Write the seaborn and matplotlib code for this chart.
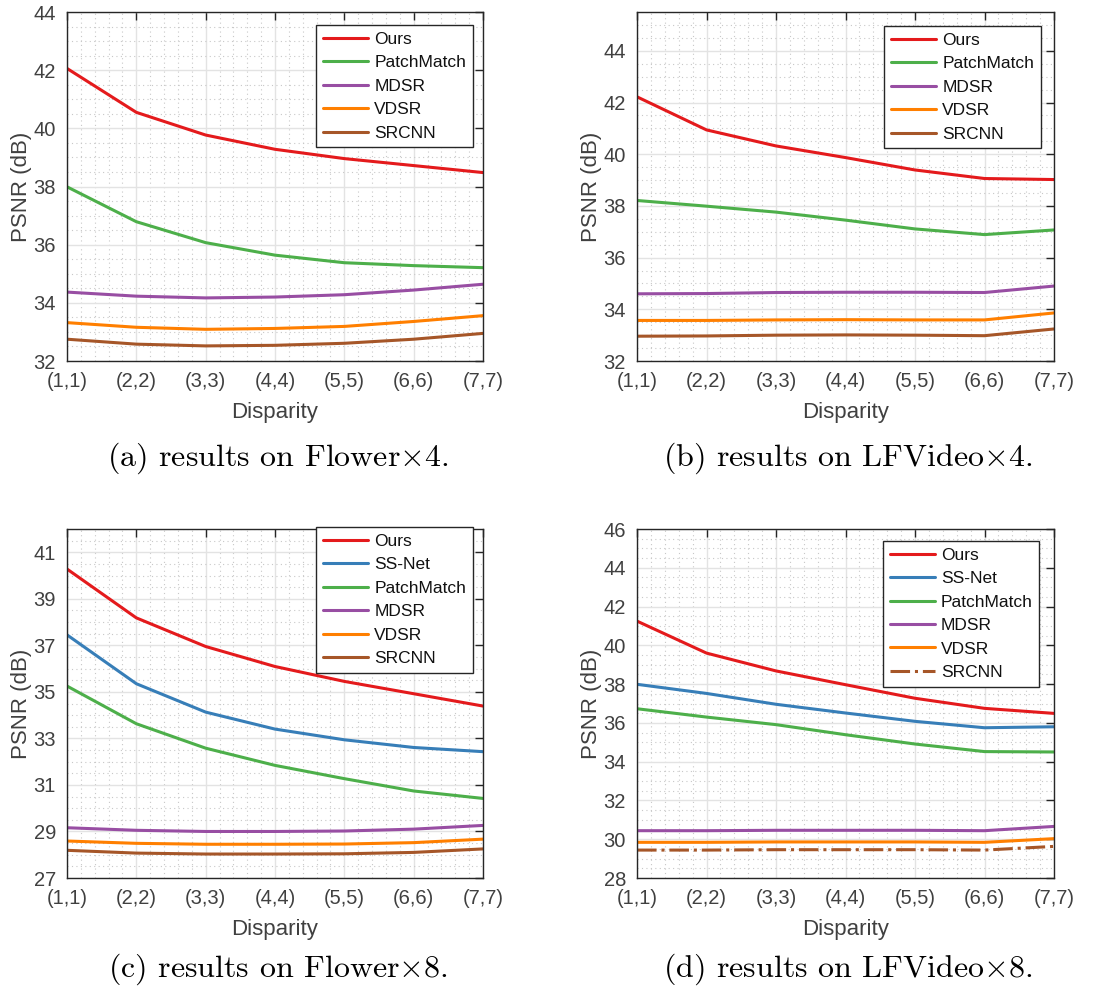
import matplotlib
matplotlib.use("Agg")
import matplotlib.pyplot as plt
import seaborn as sns
import pandas as pd
from matplotlib.ticker import MultipleLocator

sns.set_theme(style="white")
plt.rcParams['font.family'] = ['Liberation Sans', 'DejaVu Sans']
plt.rcParams['mathtext.fontset'] = 'cm'

disparity = ["(1,1)", "(2,2)", "(3,3)", "(4,4)", "(5,5)", "(6,6)", "(7,7)"]

# panel (a) Flower x4
flower4_ours = [42.06, 40.55, 39.77, 39.28, 38.96, 38.72, 38.48]
flower4_patchmatch = [37.99, 36.79, 36.07, 35.64, 35.38, 35.28, 35.21]
flower4_mdsr = [34.37, 34.23, 34.17, 34.20, 34.28, 34.44, 34.64]
flower4_vdsr = [33.32, 33.16, 33.09, 33.12, 33.19, 33.36, 33.56]
flower4_srcnn = [32.75, 32.58, 32.52, 32.54, 32.61, 32.75, 32.95]

# panel (b) LFVideo x4
lfvideo4_ours = [42.22, 40.94, 40.32, 39.87, 39.39, 39.06, 39.02]
lfvideo4_patchmatch = [38.21, 37.99, 37.76, 37.45, 37.11, 36.89, 37.07]
lfvideo4_mdsr = [34.60, 34.61, 34.65, 34.66, 34.66, 34.65, 34.90]
lfvideo4_vdsr = [33.57, 33.57, 33.59, 33.60, 33.59, 33.59, 33.86]
lfvideo4_srcnn = [32.96, 32.97, 33.00, 33.01, 33.00, 32.98, 33.24]

# panel (c) Flower x8
flower8_ours = [40.28, 38.18, 36.95, 36.09, 35.45, 34.92, 34.39]
flower8_ssnet = [37.45, 35.35, 34.13, 33.40, 32.94, 32.61, 32.43]
flower8_patchmatch = [35.25, 33.63, 32.58, 31.84, 31.27, 30.74, 30.42]
flower8_mdsr = [29.16, 29.05, 29.00, 29.00, 29.02, 29.10, 29.26]
flower8_vdsr = [28.59, 28.49, 28.45, 28.45, 28.46, 28.52, 28.67]
flower8_srcnn = [28.19, 28.07, 28.03, 28.03, 28.04, 28.10, 28.25]

# panel (d) LFVideo x8
lfvideo8_ours = [41.25, 39.60, 38.68, 37.97, 37.27, 36.75, 36.49]
lfvideo8_ssnet = [37.99, 37.52, 36.96, 36.51, 36.08, 35.75, 35.80]
lfvideo8_patchmatch = [36.73, 36.30, 35.91, 35.39, 34.91, 34.52, 34.50]
lfvideo8_mdsr = [30.44, 30.44, 30.46, 30.46, 30.46, 30.44, 30.66]
lfvideo8_vdsr = [29.84, 29.84, 29.86, 29.86, 29.86, 29.84, 30.03]
lfvideo8_srcnn = [29.44, 29.44, 29.46, 29.46, 29.46, 29.44, 29.63]

yticks_a = list(range(32, 45, 2))
yticks_b = list(range(32, 45, 2))
yticks_c = list(range(27, 42, 2))
yticks_d = list(range(28, 47, 2))

colors = {
    "Ours": "#e41a1c",
    "SS-Net": "#377eb8",
    "PatchMatch": "#4daf4a",
    "MDSR": "#984ea3",
    "VDSR": "#ff7f00",
    "SRCNN": "#a65628",
}

panels = [
    {"series": [("Ours", flower4_ours), ("PatchMatch", flower4_patchmatch),
                ("MDSR", flower4_mdsr), ("VDSR", flower4_vdsr), ("SRCNN", flower4_srcnn)],
     "ylim": (32, 44), "yticks": yticks_a, "rect": [0.0601, 0.6368, 0.3731, 0.3511],
     "caption": r"(a) results on Flower$\times$4.", "cap_xy": (0.249, 0.539),
     "legend_anchor": (0.975, 0.963), "dashdot": False},
    {"series": [("Ours", lfvideo4_ours), ("PatchMatch", lfvideo4_patchmatch),
                ("MDSR", lfvideo4_mdsr), ("VDSR", lfvideo4_vdsr), ("SRCNN", lfvideo4_srcnn)],
     "ylim": (32, 45.5), "yticks": yticks_b, "rect": [0.5713, 0.6368, 0.3740, 0.3511],
     "caption": r"(b) results on LFVideo$\times$4.", "cap_xy": (0.760, 0.539),
     "legend_anchor": (0.968, 0.960), "dashdot": False},
    {"series": [("Ours", flower8_ours), ("SS-Net", flower8_ssnet), ("PatchMatch", flower8_patchmatch),
                ("MDSR", flower8_mdsr), ("VDSR", flower8_vdsr), ("SRCNN", flower8_srcnn)],
     "ylim": (27, 42), "yticks": yticks_c, "rect": [0.0601, 0.1167, 0.3731, 0.3511],
     "caption": r"(c) results on Flower$\times$8.", "cap_xy": (0.249, 0.025),
     "legend_anchor": (0.975, 1.005), "dashdot": False},
    {"series": [("Ours", lfvideo8_ours), ("SS-Net", lfvideo8_ssnet), ("PatchMatch", lfvideo8_patchmatch),
                ("MDSR", lfvideo8_mdsr), ("VDSR", lfvideo8_vdsr), ("SRCNN", lfvideo8_srcnn)],
     "ylim": (28, 46), "yticks": yticks_d, "rect": [0.5713, 0.1167, 0.3740, 0.3511],
     "caption": r"(d) results on LFVideo$\times$8.", "cap_xy": (0.760, 0.025),
     "legend_anchor": (0.965, 0.966), "dashdot": True},
]

text_color = "#404040"
fig = plt.figure(figsize=(11.15, 9.94), dpi=100)

for p in panels:
    ax = fig.add_axes(p["rect"])
    x = list(range(1, len(disparity) + 1))
    for name, vals in p["series"]:
        df = pd.DataFrame({"x": x, "psnr": vals})
        ls = "-." if (p["dashdot"] and name == "SRCNN") else "-"
        sns.lineplot(data=df, x="x", y="psnr", ax=ax, color=colors[name],
                     linewidth=2.2, linestyle=ls, label=name)

    ax.set_xlim(1, 7)
    ax.set_ylim(*p["ylim"])
    ax.set_xticks(x)
    ax.set_xticklabels(disparity)
    ax.set_yticks(p["yticks"])
    ax.yaxis.set_minor_locator(MultipleLocator(0.5))
    ax.xaxis.set_minor_locator(MultipleLocator(0.2))
    ax.grid(True, which="major", color="#e3e3e3", linewidth=1.0)
    ax.grid(True, which="minor", color="#c8c8c8", linestyle=(0, (1, 3)), linewidth=0.8)
    ax.set_axisbelow(True)
    ax.tick_params(which="major", direction="in", length=6, width=1, colors="#262626",
                   top=True, right=True, labelcolor=text_color, labelsize=14.5)
    ax.tick_params(which="minor", length=0)
    ax.tick_params(axis="y", pad=8)
    ax.tick_params(axis="x", pad=8)
    for s in ax.spines.values():
        s.set_color("#262626")
        s.set_linewidth(1.0)
    ax.set_xlabel("Disparity", fontsize=16, color=text_color, labelpad=8)
    ax.set_ylabel("PSNR (dB)", fontsize=16, color=text_color, labelpad=1)

    leg = ax.legend(loc="upper right", bbox_to_anchor=p["legend_anchor"], fontsize=12.5,
                    frameon=True, fancybox=False, edgecolor="#262626", framealpha=1,
                    handlelength=2.6, handletextpad=0.35, labelspacing=0.48,
                    borderpad=0.38, borderaxespad=0)
    leg.get_frame().set_linewidth(1.0)
    for t in leg.get_texts():
        t.set_color("#111111")

    fig.text(p["cap_xy"][0], p["cap_xy"][1], p["caption"], ha="center", va="center",
             fontsize=23, family="cmr10", color="black")

fig.savefig("out.png", dpi=100)
